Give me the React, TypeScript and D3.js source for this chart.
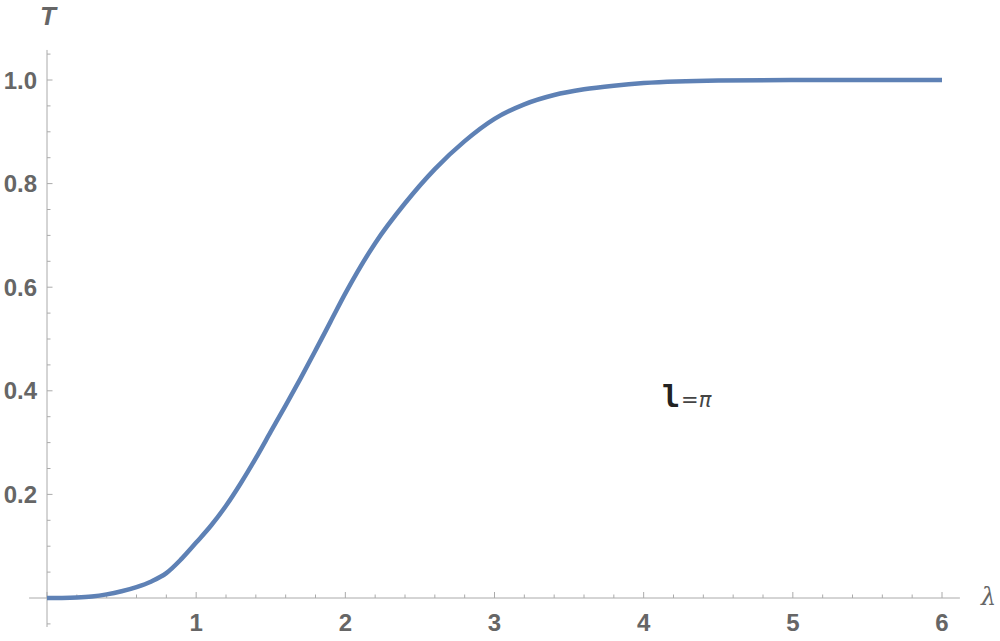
import { useEffect, useRef } from 'react';
import { select, scaleLinear, line, range, curveMonotoneX } from 'd3';

const width = 1000;
const height = 641;

// curve: lambda -> T
const lambdas = [0, 0.1, 0.2, 0.3, 0.4, 0.5, 0.6, 0.7, 0.8, 0.9, 1.0, 1.1, 1.2, 1.3, 1.4, 1.5, 1.6, 1.7, 1.8, 1.9, 2.0, 2.2, 2.4, 2.6, 2.8, 3.0, 3.2, 3.4, 3.6, 3.8, 4.0, 4.5, 5.0, 5.5, 6.0];
const tValues = [0, 0.0002, 0.001, 0.003, 0.007, 0.013, 0.021, 0.032, 0.048, 0.075, 0.107, 0.14, 0.178, 0.222, 0.27, 0.321, 0.372, 0.424, 0.478, 0.533, 0.588, 0.685, 0.762, 0.828, 0.882, 0.925, 0.953, 0.971, 0.982, 0.989, 0.994, 0.999, 1.0, 1.0, 1.0];

const xTicks = [1, 2, 3, 4, 5, 6];
const yTicks = [0.2, 0.4, 0.6, 0.8, 1.0];

const axisColor = '#aaaaaa';
const labelColor = '#666666';

function App() {
  const ref = useRef<SVGSVGElement>(null);

  useEffect(() => {
    const svg = select(ref.current);
    svg.selectAll('*').remove();

    const x = scaleLinear().domain([0, 6]).range([47, 942]);
    const y = scaleLinear().domain([0, 1]).range([598, 80]);

    // x axis
    svg.append('line')
      .attr('x1', x(-0.12)).attr('x2', x(6.12))
      .attr('y1', y(0)).attr('y2', y(0))
      .attr('stroke', axisColor).attr('stroke-width', 1);

    // x minor + major ticks (pointing up)
    const xMinor = range(0, 31).map((i) => i * 0.2);
    svg.selectAll('.xtick')
      .data(xMinor)
      .join('line')
      .attr('class', 'xtick')
      .attr('x1', (d) => x(d)).attr('x2', (d) => x(d))
      .attr('y1', y(0))
      .attr('y2', (d, i) => y(0) - (i % 5 === 0 ? 6 : 3.5))
      .attr('stroke', axisColor);

    svg.selectAll('.xlabel')
      .data(xTicks)
      .join('text')
      .attr('class', 'xlabel')
      .attr('x', (d) => x(d))
      .attr('y', 631)
      .attr('text-anchor', 'middle')
      .attr('font-family', 'Liberation Sans, Arial, sans-serif')
      .attr('font-weight', 'bold')
      .attr('font-size', 24)
      .attr('fill', labelColor)
      .text((d) => d);

    // y axis
    svg.append('line')
      .attr('x1', x(0)).attr('x2', x(0))
      .attr('y1', y(1.058)).attr('y2', y(-0.056))
      .attr('stroke', axisColor).attr('stroke-width', 1);

    const yMinor = range(-1, 22).map((i) => i * 0.05);
    svg.selectAll('.ytick')
      .data(yMinor)
      .join('line')
      .attr('class', 'ytick')
      .attr('x1', x(0))
      .attr('x2', (d, i) => x(0) + ((i - 1) % 4 === 0 ? 5.5 : 3.5))
      .attr('y1', (d) => y(d)).attr('y2', (d) => y(d))
      .attr('stroke', axisColor);

    svg.selectAll('.ylabel')
      .data(yTicks)
      .join('text')
      .attr('class', 'ylabel')
      .attr('x', 37)
      .attr('y', (d) => y(d) + 8.5)
      .attr('text-anchor', 'end')
      .attr('font-family', 'Liberation Sans, Arial, sans-serif')
      .attr('font-weight', 'bold')
      .attr('font-size', 24)
      .attr('fill', labelColor)
      .text((d) => d.toFixed(1));

    // axis labels
    svg.append('text')
      .attr('x', 48).attr('y', 25)
      .attr('text-anchor', 'middle')
      .attr('font-family', 'Liberation Sans, Arial, sans-serif')
      .attr('font-weight', 'bold')
      .attr('font-style', 'italic')
      .attr('font-size', 26)
      .attr('fill', labelColor)
      .text('T');

    svg.append('text')
      .attr('x', 981).attr('y', 605)
      .attr('font-family', 'DejaVu Serif, serif')
      .attr('font-style', 'italic')
      .attr('font-size', 24)
      .attr('fill', labelColor)
      .text('λ');

    // the curve
    const pts = lambdas.map((l, i) => [l, tValues[i]] as [number, number]);
    const gen = line<[number, number]>()
      .x((d) => x(d[0]))
      .y((d) => y(d[1]))
      .curve(curveMonotoneX);
    svg.append('path')
      .datum(pts)
      .attr('d', gen)
      .attr('fill', 'none')
      .attr('stroke', '#5e81b5')
      .attr('stroke-width', 4.5)
      .attr('stroke-linejoin', 'round');

    // annotation
    const note = svg.append('text')
      .attr('x', 662).attr('y', 407)
      .attr('fill', '#222222');
    note.append('tspan')
      .attr('font-family', 'DejaVu Sans Mono, monospace')
      .attr('font-weight', 'bold')
      .attr('font-size', 30)
      .text('l');
    note.append('tspan')
      .attr('font-family', 'DejaVu Sans, sans-serif')
      .attr('font-size', 21)
      .attr('fill', '#444444')
      .attr('dx', 1)
      .text('=');
    note.append('tspan')
      .attr('font-family', 'DejaVu Sans, sans-serif')
      .attr('font-style', 'italic')
      .attr('font-size', 21)
      .attr('fill', '#444444')
      .text('π');
  }, []);

  return <svg ref={ref} width={width} height={height} style={{ position: 'absolute', left: 0, top: 0 }} />;
}

export default App;
